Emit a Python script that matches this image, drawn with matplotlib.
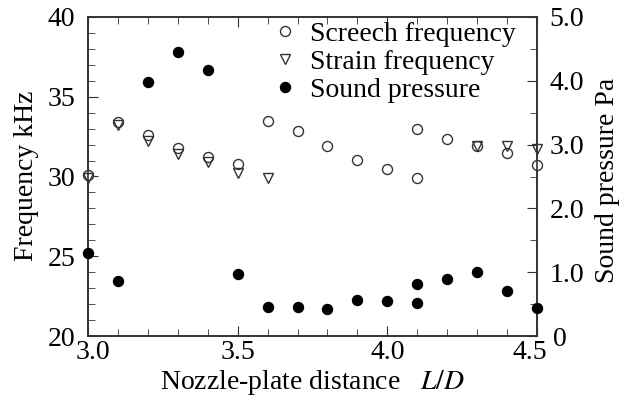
import matplotlib
matplotlib.use("Agg")
import matplotlib.pyplot as plt
import matplotlib.transforms as mtransforms
from matplotlib.ticker import MultipleLocator

plt.rcParams['font.family'] = ['Liberation Serif', 'DejaVu Serif']
plt.rcParams['mathtext.fontset'] = 'stix'

# Data
screech_x = [3.0, 3.1, 3.2, 3.3, 3.4, 3.5, 3.6, 3.7, 3.8, 3.9, 4.0, 4.1, 4.1, 4.2, 4.3, 4.4, 4.5]
screech_y = [30.1, 33.4, 32.6, 31.8, 31.2, 30.8, 33.5, 32.85, 31.9, 31.05, 30.5, 33.0, 29.9, 32.35, 31.9, 31.45, 30.75]

strain_x = [3.0, 3.1, 3.2, 3.3, 3.4, 3.5, 3.6, 4.3, 4.4, 4.5]
strain_y = [29.9, 33.2, 32.2, 31.4, 30.9, 30.2, 29.9, 31.9, 31.9, 31.7]

sound_x = [3.0, 3.1, 3.2, 3.3, 3.4, 3.5, 3.6, 3.7, 3.8, 3.9, 4.0, 4.1, 4.1, 4.2, 4.3, 4.4, 4.5]
sound_y = [1.30, 0.86, 3.98, 4.45, 4.17, 0.97, 0.45, 0.46, 0.43, 0.57, 0.55, 0.81, 0.51, 0.89, 1.00, 0.71, 0.44]

x_ticks = [3.0, 3.5, 4.0, 4.5]
x_ticklabels = ["3.0", "3.5", "4.0", "4.5"]
left_ticks = [20, 25, 30, 35, 40]
right_ticks = [0, 1, 2, 3, 4, 5]
right_ticklabels = ["0", "1.0", "2.0", "3.0", "4.0", "5.0"]

W, H = 624, 405
fig = plt.figure(figsize=(W/100, H/100), dpi=100)
ax = fig.add_axes([88/W, 1-336/H, (537-88)/W, (336-17)/H])
ax2 = ax.twinx()

fs = 20
ms = 7.2
ec = '#333333'

ax.plot(screech_x, screech_y, 'o', mfc='white', mec=ec, mew=1.0, ms=ms,
        label='Screech frequency', clip_on=False, zorder=3)
ax.plot(strain_x, strain_y, 'v', mfc='none', mec=ec, mew=1.0, ms=ms,
        label='Strain frequency', clip_on=False, zorder=4)
ax2.plot(sound_x, sound_y, 'o', mfc='black', mec='black', ms=ms,
         label='Sound pressure', clip_on=False, zorder=3)

ax.set_xlim(3.0, 4.5)
ax.set_ylim(20, 40)
ax2.set_ylim(0, 5)

ax.set_xticks(x_ticks)
ax.set_xticklabels(x_ticklabels)
ax.set_yticks(left_ticks)
ax.xaxis.set_minor_locator(MultipleLocator(0.1))
ax.yaxis.set_minor_locator(MultipleLocator(1))
ax2.set_yticks(right_ticks)
ax2.set_yticklabels(right_ticklabels)
ax2.yaxis.set_minor_locator(MultipleLocator(0.5))

for a in (ax, ax2):
    for s in a.spines.values():
        s.set_color(ec)
        s.set_linewidth(1.2)

ax.tick_params(axis='x', which='both', direction='in', top=True, labelsize=fs, pad=3, color=ec)
ax.tick_params(axis='x', which='major', length=7)
ax.tick_params(axis='x', which='minor', length=5)
ax.tick_params(axis='y', which='both', direction='in', right=False, labelsize=fs, pad=9, color=ec)
ax.tick_params(axis='y', which='major', length=7)
ax.tick_params(axis='y', which='minor', length=5)
ax2.tick_params(axis='y', which='both', direction='in', labelsize=fs, pad=9, color=ec)
ax2.tick_params(axis='y', which='major', length=7)
ax2.tick_params(axis='y', which='minor', length=5)

# nudge end x tick labels like the reference
xl = ax.get_xticklabels()
xl[0].set_transform(xl[0].get_transform() + mtransforms.ScaledTranslation(5/100, 0, fig.dpi_scale_trans))
xl[-1].set_transform(xl[-1].get_transform() + mtransforms.ScaledTranslation(-7/100, 0, fig.dpi_scale_trans))
rl = ax2.get_yticklabels()
rl[0].set_transform(rl[0].get_transform() + mtransforms.ScaledTranslation(4/100, 0, fig.dpi_scale_trans))

ax.set_xlabel('Nozzle-plate distance   $L/D$', fontsize=fs, labelpad=2)
fig.text(27/W, 1-176/H, 'Frequency kHz', rotation=90, ha='center', va='center', fontsize=fs)
fig.text(607/W, 1-180/H, 'Sound pressure Pa', rotation=90, ha='center', va='center', fontsize=fs)

h1, l1 = ax.get_legend_handles_labels()
h2, l2 = ax2.get_legend_handles_labels()
leg = ax2.legend(h1 + h2, l1 + l2, loc='upper right', frameon=False, fontsize=fs,
                 handletextpad=0.2, labelspacing=0.09, borderaxespad=0.0,
                 handlelength=1.4, bbox_to_anchor=(1 - 10/449, 1.02))

fig.savefig('out.png', dpi=100)
